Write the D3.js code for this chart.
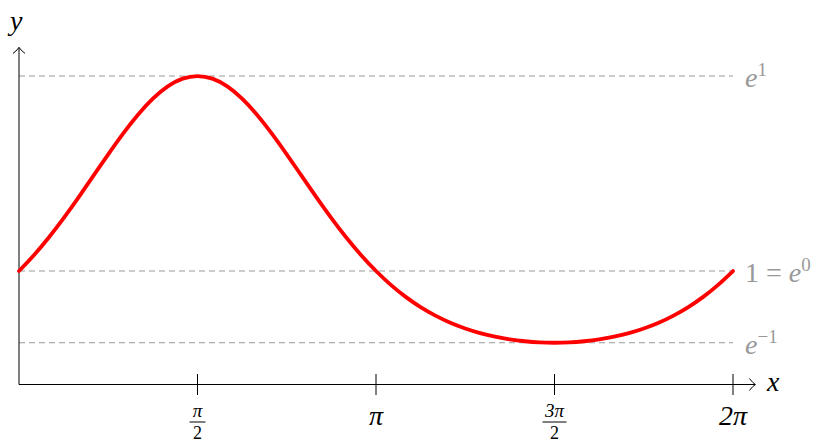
<!DOCTYPE html>
<html>
<head>
<meta charset="utf-8">
<script src="https://cdn.jsdelivr.net/npm/d3@7"></script>
<style>
  body { margin: 0; background: #fff; }
  text { font-family: "Liberation Serif", "DejaVu Serif", serif; }
</style>
</head>
<body>
<div id="chart"></div>
<script>
// curve samples (x in radians, y value)
const xs = [0, 0.131, 0.262, 0.393, 0.524, 0.654, 0.785, 0.916, 1.047, 1.178, 1.309, 1.440,
            1.571, 1.702, 1.833, 1.963, 2.094, 2.225, 2.356, 2.487, 2.618, 2.749, 2.880, 3.011,
            3.142, 3.272, 3.403, 3.534, 3.665, 3.796, 3.927, 4.058, 4.189, 4.320, 4.451, 4.581,
            4.712, 4.843, 4.974, 5.105, 5.236, 5.367, 5.498, 5.629, 5.760, 5.890, 6.021, 6.152, 6.283];
const ys = [1.000, 1.139, 1.295, 1.466, 1.649, 1.838, 2.028, 2.211, 2.377, 2.519, 2.627, 2.695,
            2.718, 2.695, 2.627, 2.519, 2.377, 2.211, 2.028, 1.838, 1.649, 1.466, 1.295, 1.139,
            1.000, 0.878, 0.772, 0.682, 0.607, 0.544, 0.493, 0.452, 0.421, 0.397, 0.381, 0.371,
            0.368, 0.371, 0.381, 0.397, 0.421, 0.452, 0.493, 0.544, 0.607, 0.682, 0.772, 0.878, 1.000];

// x ticks (value, numerator, denominator) - denominator null means plain label
const tickVals = [Math.PI / 2, Math.PI, 3 * Math.PI / 2, 2 * Math.PI];
const tickNum = ["π", "π", "3π", "2π"];
const tickDen = ["2", null, "2", null];

// horizontal reference levels
const refVals = [Math.E, 1, 1 / Math.E];
const refLabels = [["e", "1", ""], ["e", "0", "1 = "], ["e", "−1", ""]];

const width = 825, height = 445;
const margin = {left: 19, top: 47};

let svg = d3.select("#chart")
    .append("svg")
    .attr("width", width)
    .attr("height", height);

// same unit length on both axes
let x = d3.scaleLinear().domain([0, 2 * Math.PI]).range([margin.left, 733]);
let y = d3.scaleLinear().domain([0, Math.E]).range([384.5, 76]);

// dashed reference lines
svg.selectAll("line.ref")
    .data(refVals)
    .enter()
    .append("line")
    .attr("class", "ref")
    .attr("x1", x(0))
    .attr("x2", x(2 * Math.PI))
    .attr("y1", d => y(d))
    .attr("y2", d => y(d))
    .attr("stroke", "#999")
    .attr("stroke-width", 1)
    .attr("stroke-dasharray", "6,4");

// labels on the right of the reference lines
let refText = svg.selectAll("text.ref")
    .data(refVals)
    .enter()
    .append("text")
    .attr("class", "ref")
    .attr("x", 745)
    .attr("y", d => y(d) + 11)
    .attr("fill", "#999")
    .style("font-size", "28px");
refText.append("tspan").text((d, i) => refLabels[i][2]);
refText.append("tspan").style("font-style", "italic").text((d, i) => refLabels[i][0]);
refText.append("tspan").attr("dy", -11).style("font-size", "19px").text((d, i) => refLabels[i][1]);

// axes
let axisColor = "#000";
svg.append("line")
    .attr("x1", x(0)).attr("x2", x(6.48))
    .attr("y1", y(0)).attr("y2", y(0))
    .attr("stroke", axisColor).attr("stroke-width", 1);
svg.append("line")
    .attr("x1", x(0)).attr("x2", x(0))
    .attr("y1", y(0)).attr("y2", y(2.97))
    .attr("stroke", axisColor).attr("stroke-width", 1);

// arrow heads (open chevrons)
let ax = x(6.48), ay = y(0);
svg.append("path")
    .attr("d", `M${ax - 6},${ay - 6} Q${ax - 2},${ay - 1} ${ax},${ay} Q${ax - 2},${ay + 1} ${ax - 6},${ay + 6}`)
    .attr("fill", "none").attr("stroke", axisColor).attr("stroke-width", 1);
let bx = x(0), by = y(2.97);
svg.append("path")
    .attr("d", `M${bx - 6},${by + 6} Q${bx - 1},${by + 2} ${bx},${by} Q${bx + 1},${by + 2} ${bx + 6},${by + 6}`)
    .attr("fill", "none").attr("stroke", axisColor).attr("stroke-width", 1);

// axis names
svg.append("text")
    .attr("x", 767).attr("y", 391)
    .style("font-size", "28px").style("font-style", "italic")
    .text("x");
svg.append("text")
    .attr("x", 10).attr("y", 30)
    .style("font-size", "28px").style("font-style", "italic")
    .text("y");

// ticks
let ticks = svg.selectAll("g.tick")
    .data(tickVals)
    .enter()
    .append("g")
    .attr("class", "tick")
    .attr("transform", d => `translate(${x(d)},0)`);
ticks.append("line")
    .attr("y1", 374).attr("y2", 395)
    .attr("stroke", axisColor).attr("stroke-width", 1);
ticks.each(function(d, i) {
    let g = d3.select(this);
    if (tickDen[i]) {
        g.append("text").attr("y", 417).attr("text-anchor", "middle")
            .style("font-size", "19px").style("font-style", "italic").text(tickNum[i]);
        g.append("line").attr("x1", -8 - (tickNum[i].length - 1) * 4).attr("x2", 8 + (tickNum[i].length - 1) * 4)
            .attr("y1", 422).attr("y2", 422)
            .attr("stroke", axisColor).attr("stroke-width", 1);
        g.append("text").attr("y", 439).attr("text-anchor", "middle")
            .style("font-size", "18px").text(tickDen[i]);
    } else {
        g.append("text").attr("y", 425).attr("text-anchor", "middle")
            .style("font-size", "28px").style("font-style", "italic").text(tickNum[i]);
    }
});

// the curve
let line = d3.line()
    .x((d, i) => x(xs[i]))
    .y(d => y(d))
    .curve(d3.curveNatural);
svg.append("path")
    .datum(ys)
    .attr("d", line)
    .attr("fill", "none")
    .attr("stroke", "#f00")
    .attr("stroke-width", 3.8)
    .attr("stroke-linecap", "round");
</script>
</body>
</html>
